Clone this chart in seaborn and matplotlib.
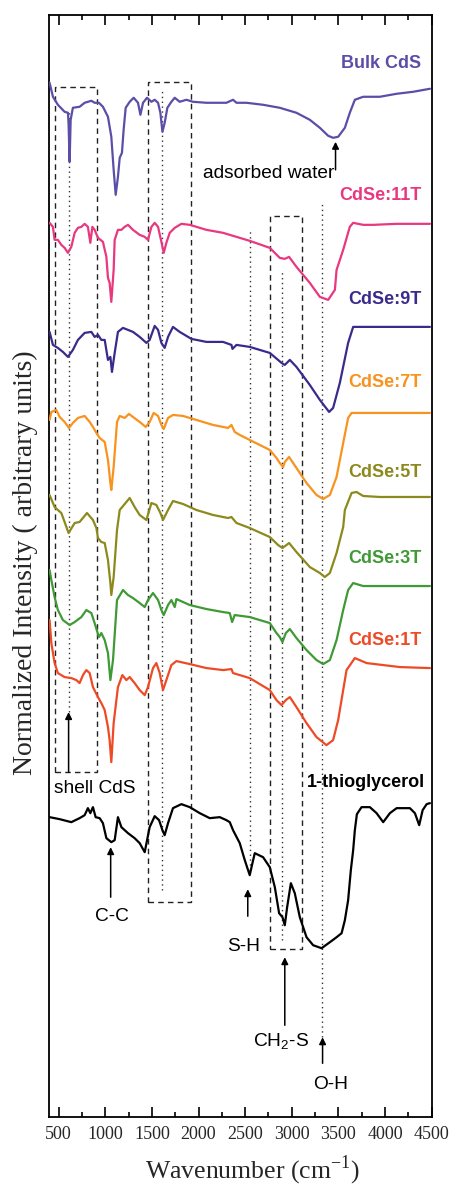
import numpy as np
import pandas as pd
import matplotlib
matplotlib.use("Agg")
import matplotlib.pyplot as plt
import matplotlib.patches as mpatches
import seaborn as sns

# ---------------- data (wavenumber, stacked normalized intensity, arbitrary units) -------------
bulk_wn = [403, 439, 492, 564, 600, 607, 618, 629, 653, 725, 779, 851, 886, 932, 975, 1029, 1065, 1090,
           1112, 1136, 1155, 1179, 1197, 1219, 1262, 1305, 1351, 1377, 1405, 1448, 1495, 1530, 1566, 1591,
           1613, 1637, 1666, 1709, 1745, 1798, 1870, 1941, 2085, 2299, 2370, 2407, 2514, 2692, 2871, 3050,
           3193, 3301, 3390, 3443, 3497, 3569, 3622, 3676, 3765, 3944, 4124, 4302, 4481]
bulk_y = [1034, 1020, 1012, 1005, 1004, 992, 955, 997, 1009, 1010, 1014, 1016, 1014, 1014, 1010, 1000, 980, 947,
          922, 940, 959, 964, 987, 1009, 1015, 1019, 1014, 1002, 1014, 1019, 1015, 1017, 1014, 1004,
          985, 994, 1009, 1015, 1019, 1015, 1017, 1015, 1014, 1014, 1017, 1014, 1014, 1012, 1009, 1004,
          997, 989, 981, 979, 980, 989, 1004, 1017, 1020, 1020, 1023, 1025, 1028]

t11_wn = [403, 439, 457, 492, 529, 564, 600, 636, 672, 707, 744, 779, 814, 840, 862, 886, 922, 975, 1012, 1029,
          1047, 1065, 1090, 1101, 1136, 1173, 1208, 1244, 1297, 1369, 1423, 1458, 1495, 1530, 1566, 1602,
          1627, 1655, 1691, 1745, 1816, 1906, 2085, 2263, 2442, 2549, 2764, 2871, 2925, 2971, 3050, 3193,
          3301, 3390, 3462, 3480, 3551, 3622, 3658, 3765, 3873, 4124, 4481]
t11_y = [894, 890, 877, 877, 872, 869, 864, 870, 884, 889, 890, 893, 890, 874, 890, 887, 879, 875, 860, 839,
         834, 815, 847, 877, 887, 887, 890, 892, 887, 882, 880, 877, 890, 894, 890, 875,
         864, 874, 884, 889, 893, 892, 887, 884, 879, 876, 869, 859, 858, 860, 850, 834,
         820, 817, 827, 847, 867, 890, 894, 892, 892, 893, 893]

t9_wn = [403, 439, 492, 546, 600, 653, 707, 779, 851, 886, 922, 958, 994, 1029, 1055, 1072, 1101, 1136, 1190,
         1244, 1297, 1369, 1441, 1476, 1530, 1566, 1602, 1637, 1673, 1726, 1798, 1924, 2085, 2263, 2353, 2364,
         2407, 2549, 2764, 2853, 2890, 2925, 2979, 3050, 3193, 3301, 3400, 3443, 3515, 3604, 3658, 3765, 4481]
t9_y = [785, 772, 769, 765, 760, 767, 777, 784, 785, 780, 782, 777, 777, 757, 760, 745, 764, 785, 789,
        787, 785, 780, 774, 777, 791, 787, 774, 769, 780, 790, 785, 778, 775, 775, 772, 768,
        772, 770, 764, 757, 754, 752, 757, 750, 732, 717, 705, 709, 734, 774, 790, 790, 790]

t7_wn = [403, 422, 475, 511, 564, 611, 653, 707, 779, 833, 868, 905, 940, 994, 1029, 1055, 1065, 1090, 1126,
         1155, 1208, 1254, 1297, 1369, 1434, 1476, 1519, 1566, 1602, 1627, 1673, 1726, 1834, 1977, 2156, 2317,
         2353, 2388, 2442, 2549, 2764, 2836, 2871, 2907, 2925, 2971, 3050, 3158, 3265, 3336, 3408, 3480, 3551,
         3604, 3641, 3765, 4481]
t7_y = [697, 705, 707, 700, 695, 689, 694, 699, 701, 695, 690, 684, 679, 675, 657, 634, 627, 650, 695,
        701, 699, 703, 700, 695, 690, 695, 704, 701, 692, 688, 699, 702, 701, 697, 692, 689,
        692, 685, 682, 677, 667, 659, 654, 650, 655, 660, 649, 634, 622, 618, 622, 640, 674,
        699, 704, 704, 704]

t5_wn = [403, 439, 457, 492, 529, 607, 672, 725, 804, 868, 905, 922, 958, 994, 1029, 1055, 1065, 1090, 1126,
         1155, 1173, 1262, 1315, 1369, 1441, 1495, 1548, 1591, 1619, 1673, 1726, 1834, 1977, 2156, 2317, 2353,
         2407, 2549, 2764, 2853, 2900, 2971, 3050, 3193, 3301, 3354, 3408, 3480, 3551, 3569, 3641, 3694, 3765,
         3944, 4481]
t5_y = [622, 614, 610, 607, 604, 584, 594, 595, 604, 597, 589, 579, 575, 574, 557, 534, 522, 540, 587,
        607, 609, 619, 610, 602, 597, 614, 612, 604, 597, 607, 616, 613, 607, 602, 599, 600,
        594, 589, 580, 572, 569, 574, 565, 550, 544, 540, 544, 564, 590, 607, 624, 625, 621,
        620, 620]

t3_wn = [403, 422, 457, 492, 546, 618, 672, 744, 797, 851, 886, 932, 958, 994, 1029, 1055, 1083, 1126, 1190,
         1244, 1297, 1369, 1423, 1458, 1512, 1566, 1602, 1627, 1673, 1709, 1745, 1763, 1906, 2085, 2263, 2335,
         2360, 2388, 2549, 2764, 2836, 2871, 2900, 2936, 2979, 3050, 3158, 3265, 3336, 3408, 3480, 3551, 3604,
         3658, 3765, 4481]
t3_y = [547, 537, 520, 507, 497, 492, 495, 500, 507, 504, 494, 480, 484, 477, 464, 437, 457, 517, 527,
        522, 519, 514, 510, 517, 524, 517, 507, 502, 512, 517, 510, 518, 512, 508, 505, 504,
        495, 502, 500, 494, 484, 480, 475, 484, 488, 479, 467, 457, 453, 457, 477, 507, 527,
        534, 531, 531]

t1_wn = [403, 422, 457, 492, 564, 636, 690, 725, 761, 797, 833, 868, 922, 958, 994, 1029, 1047, 1065, 1090,
         1136, 1183, 1226, 1262, 1315, 1369, 1423, 1458, 1512, 1548, 1584, 1619, 1655, 1709, 1763, 1906, 2085,
         2263, 2353, 2370, 2549, 2764, 2836, 2890, 2936, 2979, 3050, 3158, 3265, 3372, 3443, 3497, 3587, 3676,
         3802, 4159, 4481]
t1_y = [497, 474, 454, 444, 440, 439, 437, 434, 442, 447, 444, 430, 420, 414, 407, 390, 377, 355, 394,
        430, 442, 437, 440, 434, 427, 422, 430, 449, 454, 444, 427, 437, 452, 456, 453, 449,
        447, 448, 444, 439, 427, 417, 412, 417, 420, 410, 394, 380, 372, 377, 397, 447, 459,
        454, 450, 449]

tg_wn = [403, 511, 636, 725, 779, 814, 840, 868, 897, 940, 975, 1012, 1065, 1101, 1136, 1173, 1244, 1315, 1369,
         1423, 1476, 1530, 1577, 1613, 1637, 1673, 1726, 1816, 1906, 2013, 2120, 2228, 2299, 2335, 2370, 2442,
         2496, 2549, 2578, 2603, 2692, 2764, 2818, 2864, 2900, 2925, 2950, 2990, 3032, 3086, 3158, 3229, 3319,
         3408, 3480, 3534, 3569, 3604, 3633, 3658, 3676, 3698, 3748, 3837, 3909, 3980, 4052, 4124, 4266, 4320,
         4366, 4403, 4446, 4481]
tg_y = [300, 298, 295, 299, 302, 309, 304, 310, 300, 299, 294, 279, 275, 277, 300, 290, 284, 279, 274,
        265, 290, 301, 297, 287, 282, 294, 309, 313, 310, 304, 299, 300, 297, 295, 287, 274,
        257, 242, 254, 264, 260, 250, 230, 204, 200, 192, 210, 234, 224, 200, 180, 172, 169,
        175, 180, 184, 197, 217, 247, 267, 287, 303, 310, 310, 304, 295, 304, 309, 309, 304,
        292, 307, 313, 314]

series_names = ["Bulk CdS", "CdSe:11T", "CdSe:9T", "CdSe:7T", "CdSe:5T", "CdSe:3T", "CdSe:1T", "1-thioglycerol"]
series_wn = [bulk_wn, t11_wn, t9_wn, t7_wn, t5_wn, t3_wn, t1_wn, tg_wn]
series_y = [bulk_y, t11_y, t9_y, t7_y, t5_y, t3_y, t1_y, tg_y]
series_colors = ["#5A4EA8", "#E8387F", "#3A2A8C", "#F7931E", "#8C8A1C", "#3F9A35", "#EE4A26", "#000000"]
label_wn = [4391, 4391, 4391, 4391, 4391, 4391, 4391, 4427]
label_y = [1053, 921, 817, 734, 644, 559, 477, 335]

# annotations: text, text position, arrow x, arrow tail, arrow tip
ann_text = ["adsorbed water", "shell CdS", "C-C", "S-H", "CH$_\\mathregular{2}$-S", "O-H"]
ann_tx = [2753, 892, 1076, 2482, 2890, 3418]
ann_ty = [943, 329, 201, 171, 75, 33]
arrow_x = [3469, 607, 1058, 2528, 2925, 3330]
arrow_tail = [947, 345, 220, 201, 92, 54]
arrow_tip = [975, 405, 270, 228, 160, 80]

# dashed boxes (x0, x1, y0, y1)
box_x0 = [457, 1457, 2761]
box_x1 = [915, 1914, 3107]
box_y0 = [345, 215, 168]
box_y1 = [1030, 1035, 901]

# dotted guide lines (x, y0, y1)
dot_x = [607, 1611, 2557, 2897, 3325]
dot_y0 = [405, 227, 247, 177, 80]
dot_y1 = [1005, 1029, 887, 847, 914]

# ---------------- figure -------------
sns.set_style("ticks")
plt.rcParams["font.family"] = ["Liberation Sans", "DejaVu Sans"]
plt.rcParams["mathtext.fontset"] = "custom"
plt.rcParams["mathtext.rm"] = "Liberation Sans"

fig = plt.figure(figsize=(4.51, 11.88), dpi=100)
ax = fig.add_axes([0.1093, 0.0595, 0.8479, 0.9281])

for x0, x1, y0, y1 in zip(box_x0, box_x1, box_y0, box_y1):
    ax.add_patch(mpatches.Rectangle((x0, y0), x1 - x0, y1 - y0, fill=False, edgecolor="#222222",
                                    linestyle=(0, (4, 3)), linewidth=1.0, zorder=1))
for x, y0, y1 in zip(dot_x, dot_y0, dot_y1):
    ax.plot([x, x], [y0, y1], color="#333333", linestyle=(0, (1, 2.5)), linewidth=1.0, zorder=1)

for name, wn, yv, col in zip(series_names, series_wn, series_y, series_colors):
    df = pd.DataFrame({"wn": wn, "I": yv})
    sns.lineplot(data=df, x="wn", y="I", ax=ax, color=col, linewidth=1.6, estimator=None,
                 sort=False, zorder=3)

for name, col, lx, ly in zip(series_names, series_colors, label_wn, label_y):
    ax.text(lx, ly, name, color=col, fontsize=13, fontweight="bold", ha="right", va="center",
            family="Liberation Sans")

for t, tx, ty, axx, a0, a1 in zip(ann_text, ann_tx, ann_ty, arrow_x, arrow_tail, arrow_tip):
    ax.annotate("", xy=(axx, a1), xytext=(axx, a0),
                arrowprops=dict(arrowstyle="-|>", color="black", lw=1.1,
                                mutation_scale=10, shrinkA=0, shrinkB=0))
    ax.text(tx, ty, t, fontsize=13.8, ha="center", va="center", color="black",
            family="Liberation Sans")

ax.set_xlim(400, 4500)
ax.set_ylim(0, 1102)
ax.set_xticks(np.arange(500, 4501, 500))
ax.set_xticks(np.arange(750, 4500, 500), minor=True)
ax.set_yticks([])
ax.tick_params(axis="x", which="both", direction="in", top=True, bottom=True,
               labeltop=False, width=1.2, pad=6, color="black")
ax.tick_params(axis="x", which="major", length=7)
ax.tick_params(axis="x", which="minor", length=3.5)
for lab in ax.get_xticklabels():
    lab.set_family("Liberation Serif")
    lab.set_fontsize(13)
for sp in ax.spines.values():
    sp.set_linewidth(1.3)
    sp.set_visible(True)
    sp.set_color("black")

ax.set_xlabel("Wavenumber (cm$^{\\mathregular{-1}}$)", fontsize=18.5, family="Liberation Serif")
ax.xaxis.set_label_coords(0.531, -0.033)
ax.set_ylabel("Normalized Intensity ( arbitrary units)", fontsize=20, family="Liberation Serif")
ax.yaxis.set_label_coords(-0.03, 0.503)

fig.savefig("out.png", dpi=100)
